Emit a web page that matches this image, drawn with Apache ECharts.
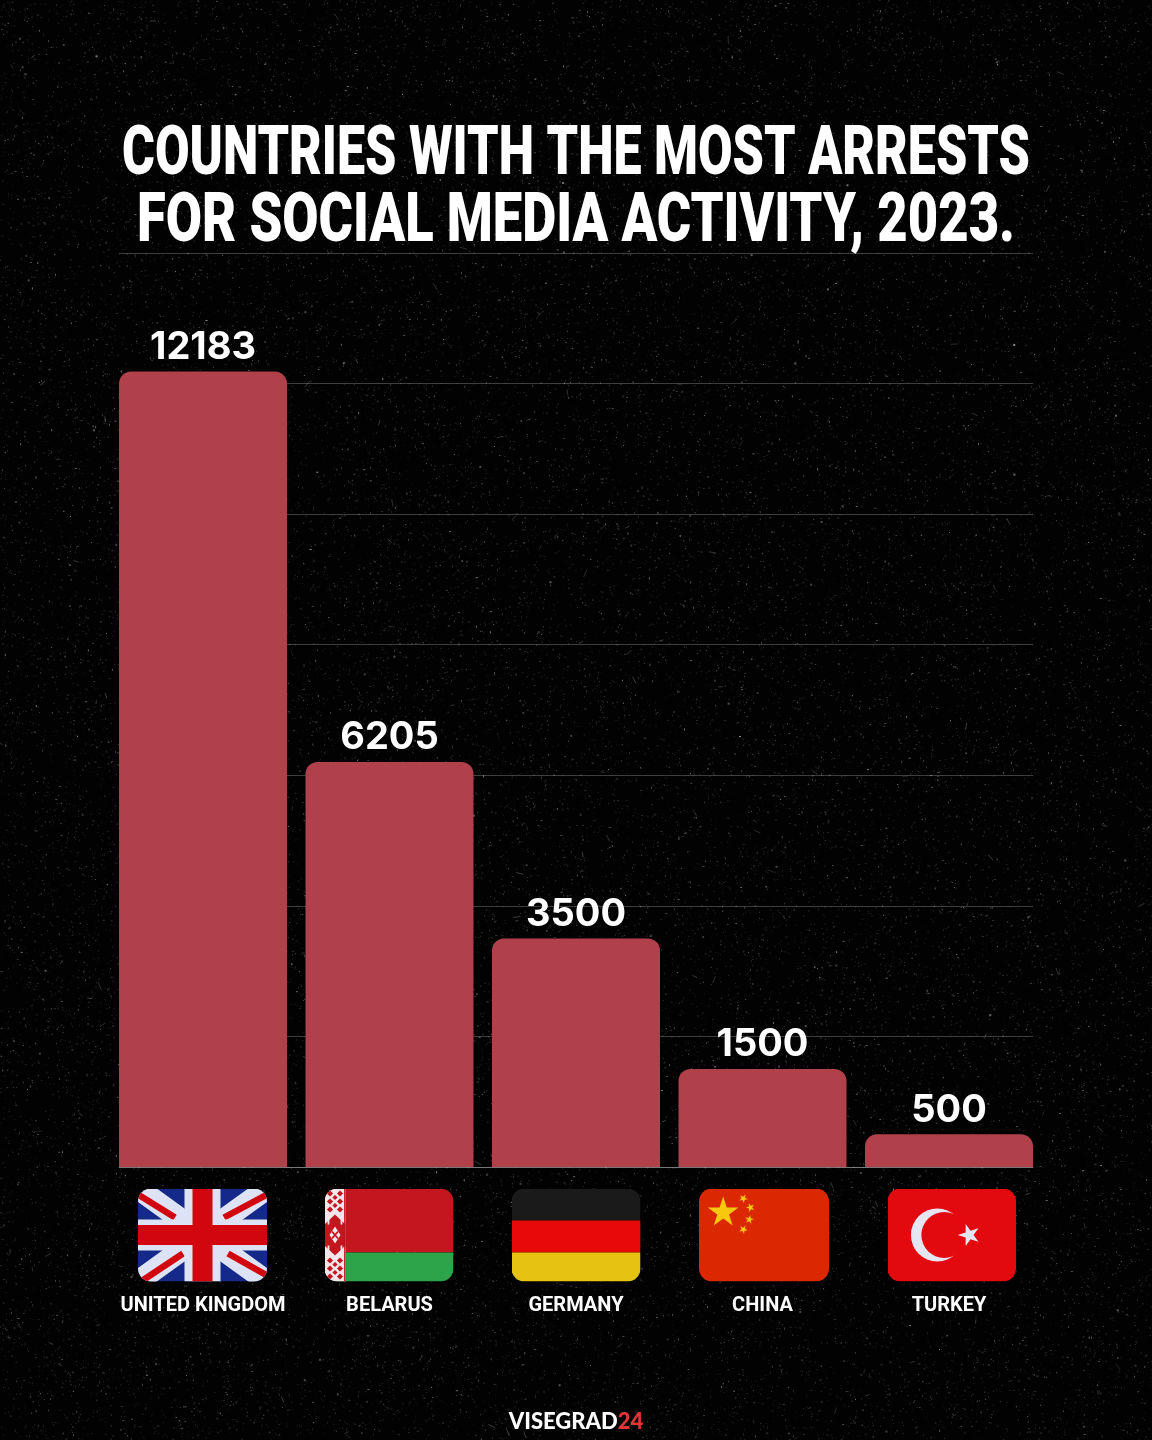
<!DOCTYPE html>
<html>
<head>
<meta charset="utf-8">
<style>html,body{margin:0;padding:0;background:#020202}#chart{width:1152px;height:1440px}</style>
<script src="https://cdn.jsdelivr.net/npm/echarts@6/dist/echarts.min.js"></script>
</head>
<body>
<div id="chart"></div>
<script>
const countries = ['UNITED KINGDOM', 'BELARUS', 'GERMANY', 'CHINA', 'TURKEY'];
const arrests = [12183, 6205, 3500, 1500, 500];
const titleLines = ['COUNTRIES WITH THE MOST ARRESTS', 'FOR SOCIAL MEDIA ACTIVITY, 2023.'];
const yTicks = { min: 0, max: 14000, interval: 2000 };

// Five-pointed star as an SVG polygon
function star(cx, cy, r, fill, rot) {
  const pts = [];
  for (let i = 0; i < 10; i++) {
    const rad = i % 2 ? r * 0.382 : r;
    const a = -Math.PI / 2 + (rot || 0) + i * Math.PI / 5;
    pts.push((cx + rad * Math.cos(a)).toFixed(2) + ',' + (cy + rad * Math.sin(a)).toFixed(2));
  }
  return `<polygon fill="${fill}" points="${pts.join(' ')}"/>`;
}

// Hoist band of the Belarusian flag: red lozenges on white, mirrored top to bottom
function belarusOrnament() {
  const red = '#C4161F';
  const white = '#F3E6EA';
  const dia = (x, y, r) => `<path fill="${red}" d="M${x} ${y - r}L${x + r} ${y}L${x} ${y + r}L${x - r} ${y}Z"/>`;
  let s = `<rect width="21" height="93" fill="${white}"/>`;
  [5, 13, 21, 72, 80, 88].forEach(y => {
    s += dia(5.5, y, 3.1) + dia(15.5, y, 3.1);
  });
  [9, 17, 76, 84].forEach(y => { s += dia(10.5, y, 2.6); });
  s += `<path fill="${red}" d="M10.5 26L21 36V57L10.5 67L0 57V36Z"/>`;
  s += `<path fill="${white}" d="M10.5 38L16 46.5L10.5 55L5 46.5Z"/>`;
  s += `<path stroke="${red}" stroke-width="1.8" d="M7.5 43L13.5 50M13.5 43L7.5 50"/>`;
  s += `<path fill="none" stroke="${white}" stroke-width="1.8" d="M0 31H4V36M21 31H17V36M0 62H4V57M21 62H17V57"/>`;
  s += `<rect x="19.6" width="1.4" height="93" fill="${red}"/>`;
  return s;
}

const flagArt = {
  uk: `<rect width="129" height="93" fill="#14298A"/>
    <path d="M0 0L129 93M129 0L0 93" stroke="#DDE3F4" stroke-width="22"/>
    <path d="M0 6L37 29M129 6L86 29M3 93L45 65M90 65L129 87" stroke="#D2060F" stroke-width="6.5"/>
    <path d="M64.5 0V93" stroke="#DDE3F4" stroke-width="36"/>
    <path d="M0 46.5H129" stroke="#DDE3F4" stroke-width="31"/>
    <path d="M64.5 0V93M0 46.5H129" stroke="#D2060F" stroke-width="20"/>`,
  by: `<rect width="129" height="64" fill="#C4161F"/><rect y="64" width="129" height="29" fill="#2EA44A"/>${belarusOrnament()}`,
  de: `<rect width="129" height="32" fill="#1A1A1A"/><rect y="32" width="129" height="32" fill="#E80A0A"/><rect y="64" width="129" height="29" fill="#E6C313"/>`,
  cn: `<rect width="129" height="93" fill="#DC2800"/>${star(24, 24, 16, '#F8C80E')}${star(44, 10, 4.6, '#F8C80E', 0.5)}${star(51, 19, 4.6, '#F8C80E', 0.9)}${star(50, 31, 4.6, '#F8C80E', 0.2)}${star(44, 41, 4.6, '#F8C80E', 0.5)}`,
  tr: `<rect width="129" height="93" fill="#E30A0F"/><circle cx="50" cy="46.5" r="26.5" fill="#E6E6F2"/><circle cx="57" cy="46.5" r="23" fill="#E30A0F"/>${star(82, 46.5, 11.5, '#E6E6F2', -Math.PI / 2)}`
};

function flagImage(art) {
  const svg = `<svg xmlns="http://www.w3.org/2000/svg" width="129" height="93" viewBox="0 0 129 93"><defs><clipPath id="c"><rect width="129" height="93" rx="13"/></clipPath></defs><g clip-path="url(#c)">${art}</g></svg>`;
  return 'data:image/svg+xml;charset=utf-8,' + encodeURIComponent(svg);
}

// Flag row beneath the axis: key, left edge, width
const flagRow = [['uk', 138, 129], ['by', 324.5, 129], ['de', 511.5, 129], ['cn', 699, 130], ['tr', 887.5, 128.5]];

// Fine dust and short scratches on the near-black ground, from a fixed seed
function grainTexture() {
  const c = document.createElement('canvas');
  c.width = 1152; c.height = 1440;
  const g = c.getContext('2d');
  g.fillStyle = '#020202';
  g.fillRect(0, 0, 1152, 1440);
  let seed = 20231;
  const next = () => (seed = (seed * 16807) % 2147483647) / 2147483647;
  for (let i = 0; i < 40000; i++) {
    const v = 40 + Math.floor(next() * next() * 150);
    g.fillStyle = `rgba(${v},${v},${v},${0.3 + next() * 0.55})`;
    g.fillRect(next() * 1152, next() * 1440, next() < 0.92 ? 1 : 2, next() < 0.92 ? 1 : 2);
  }
  g.lineWidth = 1;
  for (let i = 0; i < 320; i++) {
    const x = next() * 1152, y = next() * 1440, a = next() * 6.28, l = 2 + next() * 6;
    g.strokeStyle = `rgba(120,120,120,${0.2 + next() * 0.3})`;
    g.beginPath();
    g.moveTo(x, y);
    g.lineTo(x + Math.cos(a) * l, y + Math.sin(a) * l);
    g.stroke();
  }
  return c;
}

// Horizontal factor that condenses a title line to its measured width
const titleFont = '900 69px Roboto';
const titleWidths = [908, 878];
function titleScale(line, width) {
  const m = document.createElement('canvas').getContext('2d');
  m.font = titleFont;
  return width / m.measureText(line).width;
}

const gridTop = 253, gridHeight = 914;
const chart = echarts.init(document.getElementById('chart'), null, { renderer: 'canvas', width: 1152, height: 1440 });

chart.setOption({
  animation: false,
  backgroundColor: { image: grainTexture(), repeat: 'no-repeat' },
  grid: [
    // rules span the bars' outer edges
    { left: 119, width: 914, top: gridTop, height: gridHeight },
    // bars sit in a slightly wider band so their outer edges meet the rules' ends
    { left: 109.75, width: 932.5, top: gridTop, height: gridHeight }
  ],
  xAxis: [
    {
      gridIndex: 0, type: 'category', data: countries,
      axisLine: { show: true, lineStyle: { color: 'rgba(255,255,255,0.3)', width: 1 } },
      axisTick: { show: false }, axisLabel: { show: false }
    },
    {
      gridIndex: 1, type: 'category', data: countries,
      axisLine: { show: false },
      axisTick: { show: false },
      axisLabel: { color: '#FFFFFF', fontFamily: 'Roboto', fontWeight: 700, fontSize: 20, margin: 128, interval: 0, lineHeight: 22 }
    }
  ],
  yAxis: [
    {
      gridIndex: 0, type: 'value', min: yTicks.min, max: yTicks.max, interval: yTicks.interval,
      axisLine: { show: false }, axisTick: { show: false }, axisLabel: { show: false },
      splitLine: { show: true, lineStyle: { color: 'rgba(255,255,255,0.24)', width: 1 } }
    },
    {
      gridIndex: 1, type: 'value', min: yTicks.min, max: yTicks.max, interval: yTicks.interval,
      axisLine: { show: false }, axisTick: { show: false }, axisLabel: { show: false }, splitLine: { show: false }
    }
  ],
  series: [{
    type: 'bar', xAxisIndex: 1, yAxisIndex: 1, data: arrests, barWidth: 168,
    itemStyle: { color: '#B0404A', borderRadius: [12, 12, 0, 0] },
    label: { show: true, position: 'top', distance: 5, color: '#FFFFFF', fontFamily: 'Inter', fontWeight: 700, fontSize: 38 }
  }],
  graphic: [
    ...titleLines.map((line, i) => ({
      type: 'text', x: 576, y: 157 + i * 67, scaleX: titleScale(line, titleWidths[i]), silent: true,
      style: { text: line, fill: '#FFFFFF', font: titleFont, textAlign: 'center', textVerticalAlign: 'middle' }
    })),
    ...flagRow.map(([key, x, w]) => ({
      type: 'image', x: x, y: 1188.5, silent: true,
      style: { image: flagImage(flagArt[key]), width: w, height: 93 }
    })),
    {
      type: 'text', x: 576, y: 1422, silent: true,
      style: {
        text: '{a|VISEGRAD}{b|24}', textAlign: 'center', textVerticalAlign: 'middle',
        rich: {
          a: { fill: '#FFFFFF', font: '900 22px Lato' },
          b: { fill: '#E23636', font: '900 22px Lato' }
        }
      }
    }
  ]
});
</script>
</body>
</html>
